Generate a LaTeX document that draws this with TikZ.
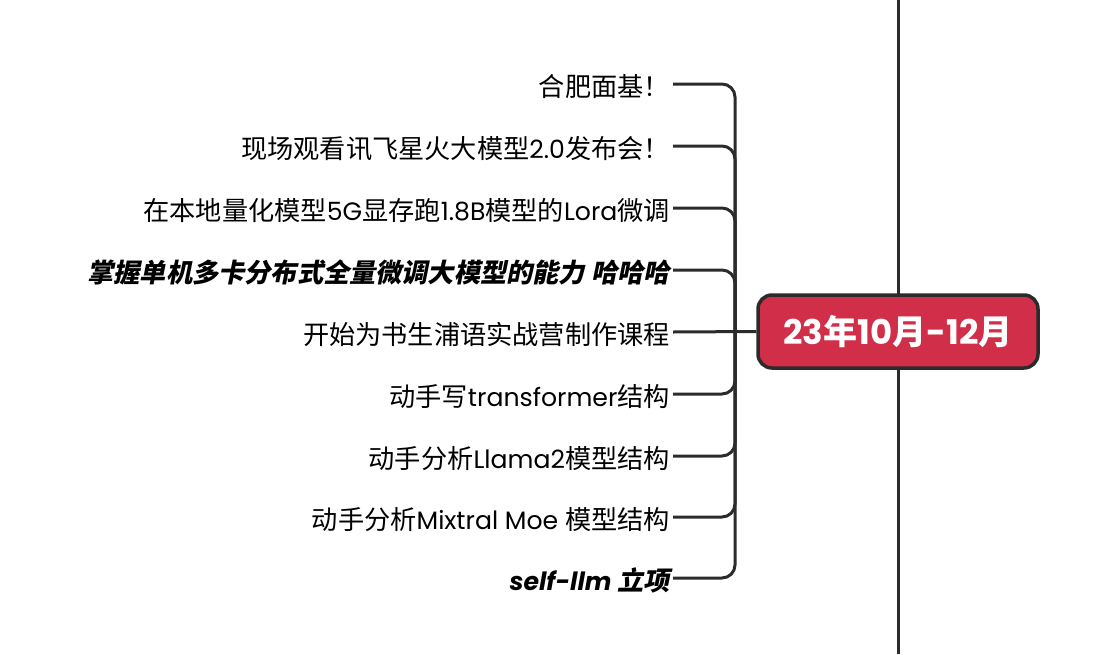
\documentclass[tikz,border=0pt]{standalone}
\usepackage{fontspec}
\setmainfont{Noto Sans CJK SC}
\newfontfamily\lat[Scale=0.96]{Poppins}
\newfontfamily\latb{Poppins}
\newfontfamily\cjkit[FakeSlant=0.2]{Noto Sans CJK SC}
\newcommand{\Lt}[1]{{\lat #1}}
\definecolor{linec}{HTML}{2B2B2B}
\definecolor{rootred}{HTML}{D12F49}
\tikzset{
  child/.style={anchor=east, inner xsep=3pt, inner ysep=0pt, text height=26pt, text depth=2pt, font=\fontsize{26.2}{30}\selectfont, text=black},
  conn/.style={draw=linec, line width=3pt, rounded corners=13pt},
  rootbox/.style={draw=linec, line width=3.5pt, fill=rootred, rounded corners=14pt, minimum width=280pt, minimum height=73pt, text=white, font=\fontsize{34}{38}\selectfont\bfseries, inner sep=0pt}
}
\begin{document}
\begin{tikzpicture}[x=1pt,y=-1pt]
\useasboundingbox (0,0) rectangle (1120,654);
\draw[draw=linec, line width=3pt] (898,0) coordinate (vtop) -- (898,654) coordinate (vbot);
\coordinate (bx) at (735,332);
\node[child] (t1) at (673,84) {合肥面基！};
\node[child] (t2) at (673,146) {现场观看讯飞星火大模型\Lt{2.0}发布会！};
\node[child] (t3) at (673,208) {在本地量化模型\Lt{5G}显存跑\Lt{1.8B}模型的\Lt{Lora}微调};
\node[child] (t4) at (673,270) {\cjkit\bfseries 掌握单机多卡分布式全量微调大模型的能力 哈哈哈};
\node[child] (t5) at (673,332) {开始为书生浦语实战营制作课程};
\node[child] (t6) at (673,394) {动手写\Lt{transformer}结构};
\node[child] (t7) at (673,456) {动手分析\Lt{Llama2}模型结构};
\node[child] (t8) at (673,517) {动手分析\Lt{Mixtral Moe }模型结构};
\node[child] (t9) at (673,578) {{\lat\bfseries\itshape self-llm }{\cjkit\bfseries 立项}};
\foreach \i in {1,2,3,4,6,7,8,9}{
  \draw[conn] (t\i.east) -| (bx);
}
\node[rootbox] (root) at (898,331.5) {{\latb 23}年{\latb 10}月{\latb -12}月};
\draw[conn] (t5.east) -- (root.west);
\end{tikzpicture}
\end{document}
